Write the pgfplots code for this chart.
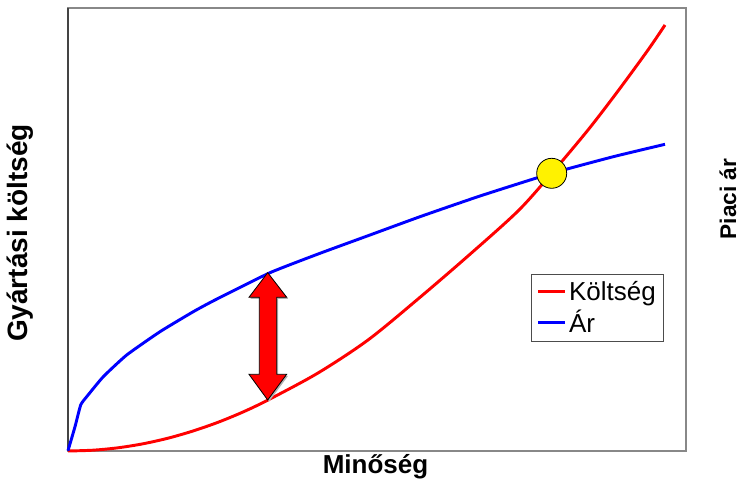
\documentclass[border=0pt]{standalone}
\usepackage{fontspec}
\setmainfont{Liberation Sans}
\usepackage{pgfplots}
\pgfplotsset{compat=1.18}
\definecolor{frameg}{HTML}{888888}
\definecolor{framed}{HTML}{444444}
\begin{document}
\begin{tikzpicture}[x=0.75pt,y=0.75pt]
\useasboundingbox (-68,-35) rectangle (676,451);
\begin{axis}[
  scale only axis,
  width=463.5pt, height=332.25pt,
  xmin=0, xmax=618, ymin=0, ymax=443,
  xtick=\empty, ytick=\empty,
  axis line style={draw=frameg, line width=2.2pt},
  clip=false,
  legend style={at={(rel axis cs:0.749,0.40)}, anchor=north west,
    draw=black!70, line width=0.8pt, font=\fontsize{19.5}{23}\selectfont,
    inner xsep=4pt, inner ysep=3pt, row sep=2pt},
  legend cell align=left,
  legend image code/.code={\draw[#1, line width=2.2pt] (0pt,0pt) -- (20pt,0pt);},
]
\draw[framed, line width=2.2pt] (axis cs:0,0) -- (axis cs:0,443);
\addplot[red, line width=2.2pt, smooth] coordinates {
(0,0) (25,0.8) (50,3.2) (75,7.2) (100,12.8) (125,20) (150,28.7) (175,39) (200,51) (250,78) (300,111) (350,152) (400,195) (450,240) (483.7,277.7) (520,321) (550,360) (580,401) (597,426)
};
\addlegendentry{Költség}
\addplot[blue, line width=2.2pt, smooth, tension=0.3] coordinates {
(0,0.3) (7,24.3) (12.7,46) (18.7,54.3) (35.3,74.3) (58.7,96) (92,119.3) (125.3,139.3) (147,151) (202,178.3) (252,197.7) (302,216) (352,234.3) (412,255) (483.7,277.7) (545.3,294.3) (597,306.7)
};
\addlegendentry{Ár}
\fill[gray!60] (axis cs:201.2,176.8) -- (axis cs:220.2,152.2) -- (axis cs:210.2,152.2) -- (axis cs:210.2,75.2) -- (axis cs:220.2,75.2) -- (axis cs:201.2,49.5) -- (axis cs:182.5,75.2) -- (axis cs:192.8,75.2) -- (axis cs:192.8,152.2) -- (axis cs:182.5,152.2) -- cycle;
\filldraw[fill=red, draw=black, line width=0.6pt] (axis cs:199.7,178.3) -- (axis cs:218.7,153.7) -- (axis cs:208.7,153.7) -- (axis cs:208.7,76.7) -- (axis cs:218.7,76.7) -- (axis cs:199.7,51) -- (axis cs:181,76.7) -- (axis cs:191.3,76.7) -- (axis cs:191.3,153.7) -- (axis cs:181,153.7) -- cycle;
\addplot[only marks, mark=*, mark size=11.25pt, mark options={fill=yellow, draw=black, line width=0.6pt}, forget plot] coordinates {(483.7,277.7)};
\node[rotate=90, font=\fontsize{21}{25}\selectfont\bfseries] at (axis cs:-48,218) {Gyártási költség};
\node[rotate=90, font=\fontsize{17}{20}\selectfont\bfseries] at (axis cs:660,252) {Piaci ár};
\node[font=\fontsize{19.5}{23}\selectfont\bfseries] at (axis cs:307.5,-16) {Minőség};
\end{axis}
\end{tikzpicture}
\end{document}
